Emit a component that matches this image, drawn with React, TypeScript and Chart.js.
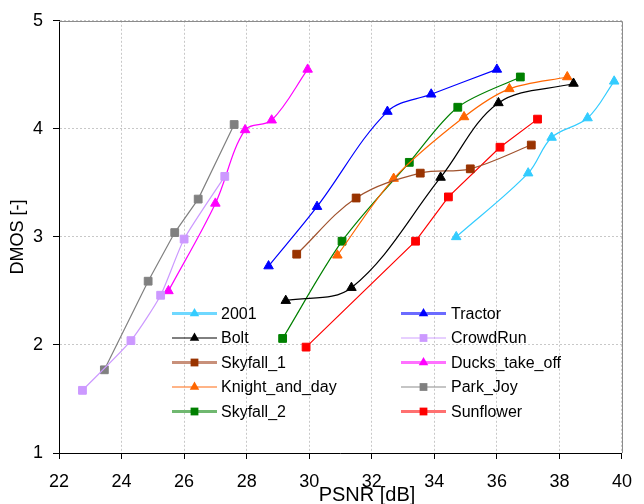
import React, { useEffect, useRef } from "react";
import { Chart, registerables } from "chart.js";

Chart.register(...registerables);

// ---- data ----
const seriesNames = ["2001", "Tractor", "Bolt", "CrowdRun", "Skyfall_1", "Ducks_take_off", "Knight_and_day", "Park_Joy", "Skyfall_2", "Sunflower"];

const psnr2001 = [34.7, 37.0, 37.75, 38.9, 39.75];
const dmos2001 = [3.0, 3.59, 3.92, 4.10, 4.44];
const psnrTractor = [28.7, 30.25, 32.5, 33.9, 36.0];
const dmosTractor = [2.73, 3.28, 4.16, 4.32, 4.55];
const psnrBolt = [29.25, 31.35, 34.2, 36.05, 38.45];
const dmosBolt = [2.41, 2.53, 3.55, 4.24, 4.42];
const psnrCrowdRun = [22.75, 24.3, 25.25, 26.0, 27.3];
const dmosCrowdRun = [1.58, 2.04, 2.46, 2.98, 3.56];
const psnrSkyfall1 = [29.6, 31.5, 33.55, 35.15, 37.1];
const dmosSkyfall1 = [2.84, 3.36, 3.59, 3.63, 3.85];
const psnrDucks = [25.5, 27.0, 27.95, 28.8, 29.95];
const dmosDucks = [2.5, 3.31, 3.99, 4.08, 4.55];
const psnrKnight = [30.9, 32.7, 34.95, 36.4, 38.25];
const dmosKnight = [2.83, 3.54, 4.11, 4.37, 4.48];
const psnrParkJoy = [23.45, 24.85, 25.7, 26.45, 27.6];
const dmosParkJoy = [1.77, 2.59, 3.04, 3.35, 4.04];
const psnrSkyfall2 = [29.15, 31.05, 33.2, 34.75, 36.75];
const dmosSkyfall2 = [2.06, 2.96, 3.69, 4.2, 4.48];
const psnrSunflower = [29.9, 33.4, 34.45, 36.1, 37.3];
const dmosSunflower = [1.98, 2.96, 3.37, 3.83, 4.09];

const psnrSeries = [psnr2001, psnrTractor, psnrBolt, psnrCrowdRun, psnrSkyfall1, psnrDucks, psnrKnight, psnrParkJoy, psnrSkyfall2, psnrSunflower];
const dmosSeries = [dmos2001, dmosTractor, dmosBolt, dmosCrowdRun, dmosSkyfall1, dmosDucks, dmosKnight, dmosParkJoy, dmosSkyfall2, dmosSunflower];

const xMin = 22, xMax = 40, xStep = 2;
const yMin = 1, yMax = 5, yStep = 1;
const xTitle = "PSNR [dB]";
const yTitle = "DMOS [-]";

// legend order (two columns, column-first)
const legendOrder = ["2001", "Bolt", "Skyfall_1", "Knight_and_day", "Skyfall_2", "Tractor", "CrowdRun", "Ducks_take_off", "Park_Joy", "Sunflower"];

// ---- styles ----
const lineColors = ["#33ccff", "#0000ff", "#000000", "#cc99ff", "#a0522d", "#ff00ff", "#ff6600", "#808080", "#008000", "#ff0000"];
const markerColors = ["#33ccff", "#0000ff", "#000000", "#cc99ff", "#993300", "#ff00ff", "#ff6600", "#808080", "#008000", "#ff0000"];
const markerShapes = ["triangle", "triangle", "triangle", "rect", "rect", "triangle", "triangle", "rect", "rect", "rect"];
const tensions = [0.35, 0.35, 0.35, 0.2, 0.35, 0.35, 0.3, 0, 0.3, 0];
const legendLineColors = ["#6fd8ff", "#6b6bff", "#000000", "#cfa0ff", "#c8907a", "#ff70ff", "#ff6a10", "#8c8c8c", "#70b870", "#ff7070"];
const legendLineWidths = [3, 3, 1, 1, 3, 3, 1.2, 1.2, 3, 3];

const FONT = '"Liberation Sans", Arial, sans-serif';

function drawMarker(ctx: CanvasRenderingContext2D, shape: string, x: number, y: number, r: number, color: string) {
  ctx.fillStyle = color;
  ctx.beginPath();
  if (shape === "triangle") {
    ctx.moveTo(x, y - r);
    ctx.lineTo(x + 0.866 * r, y + 0.5 * r);
    ctx.lineTo(x - 0.866 * r, y + 0.5 * r);
  } else {
    const s = r * Math.SQRT1_2;
    ctx.rect(x - s, y - s, 2 * s, 2 * s);
  }
  ctx.closePath();
  ctx.fill();
}

const decorPlugin = {
  id: "decor",
  beforeDatasetsDraw(chart: any) {
    const { ctx, chartArea: a } = chart;
    ctx.save();
    ctx.strokeStyle = "#8c8c8c";
    ctx.lineWidth = 1;
    ctx.beginPath();
    ctx.moveTo(Math.round(a.left), Math.round(a.top) + 0.5);
    ctx.lineTo(Math.round(a.right) + 0.5, Math.round(a.top) + 0.5);
    ctx.lineTo(Math.round(a.right) + 0.5, Math.round(a.bottom));
    ctx.stroke();
    ctx.restore();
  },
  afterDatasetsDraw(chart: any) {
    const { ctx } = chart;
    ctx.save();
    const colLine = [[172, 217], [401, 446]];
    const colText = [221, 451];
    const rowY = [313.5, 338, 362.5, 387, 411.5];
    legendOrder.forEach((name, i) => {
      const idx = seriesNames.indexOf(name);
      const col = Math.floor(i / 5);
      const row = i % 5;
      const y = rowY[row];
      const [x1, x2] = colLine[col];
      ctx.strokeStyle = legendLineColors[idx];
      ctx.lineWidth = legendLineWidths[idx];
      ctx.beginPath();
      ctx.moveTo(x1, y);
      ctx.lineTo(x2, y);
      ctx.stroke();
      drawMarker(ctx, markerShapes[idx], (x1 + x2) / 2, y, 5.5, markerColors[idx]);
      ctx.fillStyle = "#000";
      ctx.font = `16px ${FONT}`;
      ctx.textAlign = "left";
      ctx.textBaseline = "middle";
      ctx.fillText(name, colText[col], y + 1);
    });
    ctx.restore();
  },
  afterDraw(chart: any) {
    const { ctx } = chart;
    ctx.save();
    ctx.fillStyle = "#000";
    ctx.font = `20px ${FONT}`;
    ctx.textAlign = "center";
    ctx.textBaseline = "middle";
    ctx.fillText(xTitle, 367, 495);
    ctx.restore();
  },
};

export default function App() {
  const canvasRef = useRef<HTMLCanvasElement | null>(null);

  useEffect(() => {
    if (!canvasRef.current) return;
    const datasets = seriesNames.map((name, i) => ({
      label: name,
      data: psnrSeries[i].map((x, j) => ({ x, y: dmosSeries[i][j] })),
      borderColor: lineColors[i],
      backgroundColor: markerColors[i],
      pointBackgroundColor: markerColors[i],
      pointBorderColor: markerColors[i],
      pointBorderWidth: 1,
      pointStyle: markerShapes[i],
      pointRadius: 5.5,
      borderWidth: 1.2,
      tension: tensions[i],
      fill: false,
    }));
    const chart = new Chart(canvasRef.current, {
      type: "line",
      data: { datasets },
      plugins: [decorPlugin],
      options: {
        responsive: false,
        animation: false,
        devicePixelRatio: 1,
        layout: { padding: { top: 19, right: 14, left: 0, bottom: 0 }, autoPadding: false },
        plugins: { legend: { display: false }, tooltip: { enabled: false } },
        scales: {
          x: {
            type: "linear",
            min: xMin,
            max: xMax,
            afterFit: (s: any) => { s.height = 51; },
            ticks: { stepSize: xStep, color: "#000", font: { family: FONT, size: 18 }, padding: 12, maxRotation: 0 },
            grid: { color: "#c8c8c8", lineWidth: 1, tickLength: 6, tickColor: "#000", tickWidth: 1, tickBorderDash: [] },
            border: { display: true, color: "#000", width: 1, dash: [2, 2] },
            title: { display: false },
          },
          y: {
            type: "linear",
            min: yMin,
            max: yMax,
            afterFit: (s: any) => { s.width = 59; },
            ticks: { stepSize: yStep, color: "#000", font: { family: FONT, size: 18 }, padding: 10 },
            grid: { color: "#c8c8c8", lineWidth: 1, tickLength: 6, tickColor: "#000", tickWidth: 1, tickBorderDash: [] },
            border: { display: true, color: "#000", width: 1, dash: [2, 2] },
            title: { display: true, text: yTitle, color: "#000", font: { family: FONT, size: 18 }, padding: { top: 7, bottom: 0 } },
          },
        },
      },
    } as any);
    return () => chart.destroy();
  }, []);

  return (
    <div style={{ position: "absolute", left: 0, top: 0, width: 644, height: 504, background: "#fff" }}>
      <canvas ref={canvasRef} width={644} height={504} style={{ display: "block" }} />
    </div>
  );
}
